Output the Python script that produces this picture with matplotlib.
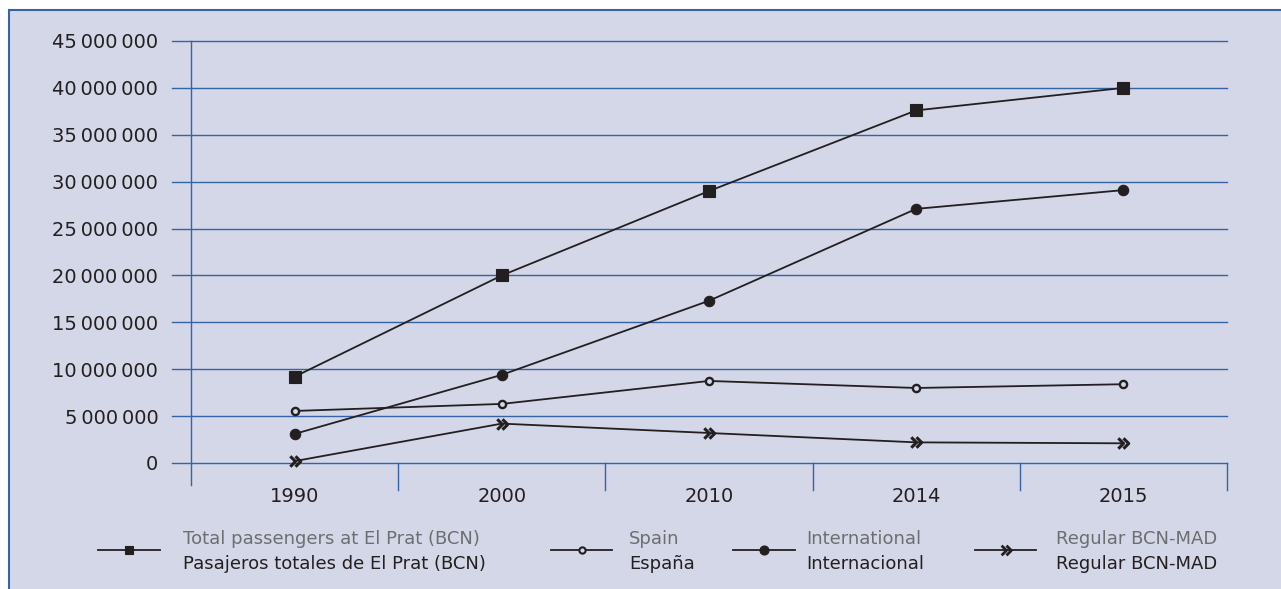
import numpy as np
import matplotlib
matplotlib.use("Agg")
import matplotlib.pyplot as plt
from matplotlib.path import Path
from matplotlib.patches import Rectangle

years = ["1990", "2000", "2010", "2014", "2015"]
total = [9.2e6, 20.0e6, 29.0e6, 37.6e6, 40.0e6]
international = [3.1e6, 9.4e6, 17.3e6, 27.1e6, 29.1e6]
spain = [5.55e6, 6.3e6, 8.75e6, 8.0e6, 8.4e6]
bcn_mad = [0.2e6, 4.2e6, 3.2e6, 2.2e6, 2.1e6]

labels_en = ["Total passengers at El Prat (BCN)", "Spain", "International", "Regular BCN-MAD"]
labels_es = ["Pasajeros totales de El Prat (BCN)", "España", "Internacional", "Regular BCN-MAD"]

yticks = np.arange(0, 45e6 + 1, 5e6)

W, H = 1281, 589
BG = "#d3d7e8"
BLUE = "#3563a3"
INK = "#231f20"
GREY = "#6d6e71"
FONT = "DejaVu Sans"

# double chevron marker
chev = Path([(-1, 1), (0, 0), (-1, -1), (0, 1), (1, 0), (0, -1)],
            [Path.MOVETO, Path.LINETO, Path.LINETO, Path.MOVETO, Path.LINETO, Path.LINETO])

# marker styles in the plot and (smaller) in the legend
styles = [
    dict(marker="s", ms=8, mfc=INK, mec=INK, mew=0.8),
    dict(marker="o", ms=5.2, mfc=BG, mec=INK, mew=1.7),
    dict(marker="o", ms=7.5, mfc=INK, mec=INK, mew=0.8),
    dict(marker=chev, ms=7.5, mfc="none", mec=INK, mew=2.2),
]
leg_styles = [
    dict(marker="s", ms=6, mfc=INK, mec=INK, mew=0.8),
    dict(marker="o", ms=4.5, mfc=BG, mec=INK, mew=1.5),
    dict(marker="o", ms=6.5, mfc=INK, mec=INK, mew=0.8),
    dict(marker=chev, ms=7, mfc="none", mec=INK, mew=2.0),
]
series = [total, spain, international, bcn_mad]

fig = plt.figure(figsize=(W / 100, H / 100), dpi=100)
fig.patch.set_facecolor("white")

# background panel with blue top/left border
fig.add_artist(Rectangle((9 / W, 0), 1, 1 - 10 / H, transform=fig.transFigure,
                         facecolor=BG, edgecolor="none", zorder=-10))
fig.add_artist(plt.Line2D([9 / W, 1], [1 - 10 / H, 1 - 10 / H], color=BLUE, lw=1.5,
                          transform=fig.transFigure, zorder=-5))
fig.add_artist(plt.Line2D([9 / W, 9 / W], [0, 1 - 10 / H], color=BLUE, lw=1.5,
                          transform=fig.transFigure, zorder=-5))

x0, x1, y0, y1 = 191, 1227, 463, 41
ax = fig.add_axes([x0 / W, 1 - y0 / H, (x1 - x0) / W, (y0 - y1) / H])
ax.set_facecolor("none")
for s in ax.spines.values():
    s.set_visible(False)

x = np.arange(len(years))
ax.set_xlim(-0.5, len(years) - 0.5)
ax.set_ylim(0, 45e6)

ext = (x0 - 172) / (x1 - x0)
for v in yticks:
    ax.axhline(v, xmin=-ext, xmax=1, color=BLUE, lw=1.0, clip_on=False, zorder=1)

px = 45e6 / (y0 - y1)
ax.plot([-0.5, -0.5], [45e6, -22 * px], color=BLUE, lw=1.0, clip_on=False, zorder=1)
for b in np.arange(0.5, len(years), 1.0):
    ax.plot([b, b], [0, -27 * px], color=BLUE, lw=1.0, clip_on=False, zorder=1)

for vals, st in zip(series, styles):
    ax.plot(x, vals, color=INK, lw=1.3, zorder=3, clip_on=False, **st)

ax.set_yticks(yticks)
ax.set_yticklabels([f"{int(v):,}".replace(",", "\u2009") for v in yticks],
                   fontsize=14, family=FONT, color=INK)
ax.set_xticks(x)
ax.set_xticklabels(years, fontsize=14, family=FONT, color=INK)
ax.tick_params(axis="y", length=0, pad=23.5)
ax.tick_params(axis="x", length=0, pad=17)

# legend drawn by hand
leg_y = 1 - 550 / H
entries = [(98, 160, 183), (551, 612, 629), (733, 795, 806), (975, 1036, 1056)]
for (la, lb, tx), st, en, es in zip(entries, leg_styles, labels_en, labels_es):
    fig.add_artist(plt.Line2D([la / W, lb / W], [leg_y, leg_y], color=INK, lw=1.3,
                              transform=fig.transFigure))
    fig.add_artist(plt.Line2D([(la + lb) / 2 / W], [leg_y], color=INK, lw=0,
                              transform=fig.transFigure, **st))
    fig.text(tx / W, 1 - 539 / H, en, fontsize=13, family=FONT,
             color=GREY, va="center", ha="left")
    fig.text(tx / W, 1 - 564 / H, es, fontsize=13, family=FONT,
             color=INK, va="center", ha="left")

fig.savefig("out.png", dpi=100, facecolor="white")
